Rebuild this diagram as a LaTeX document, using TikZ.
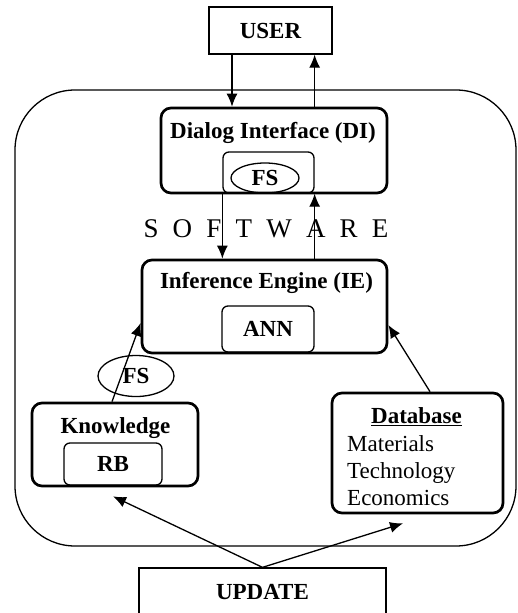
\documentclass[tikz,border=0pt]{standalone}
\usepackage{fontspec}
\setmainfont{Liberation Serif}
\usetikzlibrary{arrows.meta,shapes.geometric}

\begin{document}
\begin{tikzpicture}[x=1pt,y=-1pt,>={Latex[length=13pt,width=11pt]},
    every node/.append style={align=center,font=\fontsize{23}{27}\selectfont\bfseries},
    outer/.style={draw, line width=1.3pt, inner sep=0pt},
    blk/.style={draw, line width=2.7pt, rounded corners=10pt, inner sep=0pt},
    sub/.style={draw, line width=1.3pt, rounded corners=6pt, inner sep=0pt},
    fs/.style={draw, ellipse, line width=1.3pt, inner sep=0pt},
    txt/.style={inner sep=0pt},
    con/.style={->, line width=1.3pt}]
    \useasboundingbox (0,0) rectangle (517,613);

    % software frame
    \node [outer, rounded corners=60pt, minimum width=501pt, minimum height=456pt] (SW) at (265.5,318) {};
    \node [txt, font=\fontsize{27}{30}\selectfont] (SWlbl) at (266,229)
        {S\hspace{14.2pt}O\hspace{14.2pt}F\hspace{14.2pt}T\hspace{14.2pt}W\hspace{14.2pt}A\hspace{14.2pt}R\hspace{14.2pt}E};

    \node [outer, minimum width=123pt, minimum height=47pt] (USER) at (270.5,30.5) {USER};
    \node [outer, minimum width=247pt, minimum height=48pt] (UPD) at (262.5,592) {UPDATE};

    % dialog interface
    \node [blk, minimum width=226pt, minimum height=85pt] (DI) at (274,150.5) {};
    \node [txt] (DIlbl) at (273,133) {Dialog Interface (DI)};
    \node [sub, minimum width=91pt, minimum height=41pt] (DIin) at (268.5,172.5) {};
    \node [fs, minimum width=68pt, minimum height=30pt] (FS1) at (265,178) {FS};

    % inference engine
    \node [blk, minimum width=245pt, minimum height=93pt] (IE) at (264.5,306.5) {};
    \node [txt] (IElbl) at (266.5,283) {Inference Engine (IE)};
    \node [sub, minimum width=92pt, minimum height=46pt] (ANN) at (268,329) {ANN};

    % knowledge
    \node [blk, minimum width=166pt, minimum height=83pt] (Kn) at (115,444.5) {};
    \node [txt] (Knlbl) at (115.5,428) {Knowledge};
    \node [sub, minimum width=98pt, minimum height=42pt] (RB) at (113,464) {RB};
    \node [fs, minimum width=76pt, minimum height=41pt] (FS2) at (136,376) {FS};

    % database
    \node [blk, minimum width=171pt, minimum height=120pt] (Db) at (417.5,453) {};
    \node [txt] (Dblbl) at (416.5,417) {\underline{Database}};
    \node [txt, anchor=west, align=left, font=\fontsize{23}{27}\selectfont] (Dbitems) at (347,471)
        {Materials\\Technology\\Economics};

    \draw [con] ([xshift=-38.5pt]USER.south) -- ([xshift=-38.5pt]USER.south |- DI.north);
    \draw [con] (DIin.east |- DI.north) -- (DIin.east |- USER.south);
    \draw [con] (DIin.south west) -- (DIin.south west |- IE.north);
    \draw [con] (ANN.north east |- IE.north) -- (DIin.south east);
    \draw [con] ([xshift=-3pt]Kn.north) -- ([yshift=-16.5pt]IE.west);
    \draw [con] ([xshift=12.5pt]Db.north) -- ([yshift=-18.5pt]IE.east);
    \draw [con] (UPD.north) -- ([xshift=-2pt,yshift=-9pt]Kn.south);
    \draw [con] (UPD.north) -- ([xshift=-14.5pt,yshift=-9pt]Db.south);
\end{tikzpicture}
\end{document}
